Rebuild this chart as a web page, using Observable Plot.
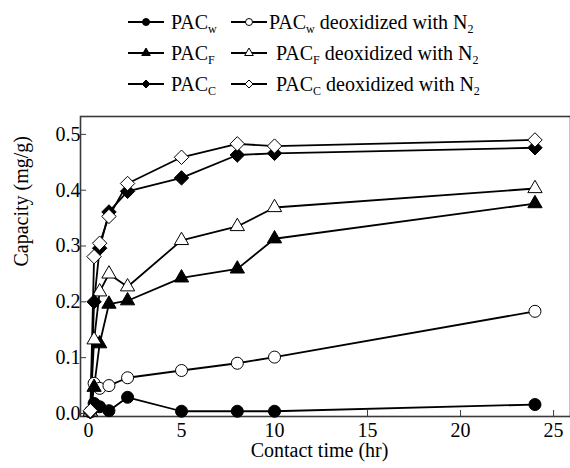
<!DOCTYPE html>
<html><head><meta charset="utf-8">
<script src="https://cdn.jsdelivr.net/npm/d3@7"></script>
<script src="https://cdn.jsdelivr.net/npm/@observablehq/plot@0.6"></script>
<style>
body{margin:0;background:#fff;font-family:"Liberation Serif","DejaVu Serif",serif;}
#legend{position:relative;width:570px;height:100px;}
.row{position:absolute;left:0;height:24px;font-size:20px;color:#000;font-family:"Liberation Serif","DejaVu Serif",serif;}
.row span{position:absolute;white-space:nowrap;line-height:24px;}
.row svg{position:absolute;top:0;}
sub{font-size:12px;vertical-align:-4px;line-height:0;}
#chart svg text{font-family:"Liberation Serif","DejaVu Serif",serif !important;font-size:20px !important;}
</style>
</head><body>
<div id="legend"></div>
<div id="chart"></div>
<script>
// ---- data ----
const times   = [0.1, 0.3, 0.6, 1.1, 2.1, 5, 8, 10, 24];
const pacW    = [0.003, 0.018, 0.012, 0.005, 0.029, 0.004, 0.004, 0.004, 0.016];
const pacWN2  = [0.003, 0.054, 0.045, 0.050, 0.064, 0.077, 0.090, 0.101, 0.183];
const pacF    = [0.003, 0.047, 0.125, 0.196, 0.202, 0.243, 0.259, 0.313, 0.376];
const pacFN2  = [0.003, 0.132, 0.218, 0.250, 0.227, 0.310, 0.335, 0.369, 0.403];
const pacC    = [0.003, 0.200, 0.296, 0.361, 0.398, 0.422, 0.463, 0.466, 0.476];
const pacCN2  = [0.005, 0.281, 0.305, 0.353, 0.412, 0.459, 0.483, 0.479, 0.490];
const xTicks  = [0, 5, 10, 15, 20, 25];
const yTicks  = [0, 0.1, 0.2, 0.3, 0.4, 0.5];

const seriesDefs = [
  {key: "PACw", sub: "w", vals: pacW,   symbol: "circle",   fill: "black", r: 6,   n2: false, lr: 3.5},
  {key: "PACwN2", sub: "w", vals: pacWN2, symbol: "circle",   fill: "white", r: 6,   n2: true,  lr: 3.5},
  {key: "PACF", sub: "F", vals: pacF,   symbol: "triangle", fill: "black", r: 5.3, n2: false, lr: 3.2},
  {key: "PACFN2", sub: "F", vals: pacFN2, symbol: "triangle", fill: "white", r: 5.3, n2: true,  lr: 3.2},
  {key: "PACC", sub: "C", vals: pacC,   symbol: "diamond2", fill: "black", r: 6.5, n2: false, lr: 3.6},
  {key: "PACCN2", sub: "C", vals: pacCN2, symbol: "diamond2", fill: "white", r: 6.5, n2: true,  lr: 3.6}
];

const rows = seriesDefs.flatMap(s => times.map((t, i) => ({series: s.key, t, v: s.vals[i]})));

const FONT = "'Liberation Serif','DejaVu Serif',serif";
const marks = [
  Plot.frame({stroke: "#3a3a3a", strokeWidth: 1.6}),
  Plot.axisX({ticks: xTicks, tickSize: -6, tickFormat: d => d, fontSize: 20, tickPadding: 12, label: null, stroke: "#3a3a3a", fill: "black"}),
  Plot.axisY({ticks: yTicks, tickSize: -6, tickFormat: d3.format(".1f"), fontSize: 20, tickPadding: 6, label: null, stroke: "#3a3a3a", fill: "black"}),
  Plot.text(["Contact time (hr)"], {frameAnchor: "bottom", dy: 40, fontSize: 20, fill: "black", dx: -6}),
  Plot.text(["Capacity (mg/g)"], {frameAnchor: "left", dx: -59, rotate: -90, fontSize: 20, fill: "black"})
];
for (const s of seriesDefs) {
  marks.push(Plot.line(rows.filter(d => d.series === s.key), {x: "t", y: "v", stroke: "black", strokeWidth: 1.8}));
}
for (const s of seriesDefs) {
  marks.push(Plot.dot(rows.filter(d => d.series === s.key), {x: "t", y: "v", symbol: () => s.symbol, r: s.r, fill: s.fill, stroke: "black", strokeWidth: 1}));
}

const chart = Plot.plot({
  width: 570, height: 368,
  marginTop: 16, marginBottom: 52, marginLeft: 80, marginRight: 0,
  style: {fontFamily: FONT, fontSize: "20px", color: "black", background: "white"},
  x: {domain: [-0.43, 25.91]},
  y: {domain: [-0.0054, 0.532]},
  symbol: {type: "identity"},
  marks
});
document.getElementById("chart").appendChild(chart);

// ---- legend ----
const legend = document.getElementById("legend");
const rowY = [10, 41, 72];
const sym = (type, fill, r) => {
  const p = d3.symbol(type === "circle" ? d3.symbolCircle : type === "triangle" ? d3.symbolTriangle : d3.symbolDiamond2, Math.PI * r * r)();
  return `<path d="${p}" transform="translate(18,12)" fill="${fill}" stroke="black" stroke-width="1"/>`;
};
seriesDefs.forEach((s, i) => {
  const row = Math.floor(i / 2);
  const right = i % 2 === 1;
  const div = document.createElement("div");
  div.className = "row";
  div.style.top = rowY[row] + "px";
  const lineX = right ? 231 : 128;
  const textX = right ? (row === 0 ? 269 : 276) : 171;
  div.innerHTML = `<svg width="37" height="24" style="left:${lineX}px"><line x1="0" x2="36" y1="12" y2="12" stroke="black" stroke-width="1.8"/>${sym(s.symbol, s.fill, s.lr)}</svg>` +
    `<span style="left:${textX}px">PAC<sub>${s.sub}</sub>${s.n2 ? "&nbsp;deoxidized with N<sub>2</sub>" : ""}</span>`;
  legend.appendChild(div);
});
</script>
</body></html>
